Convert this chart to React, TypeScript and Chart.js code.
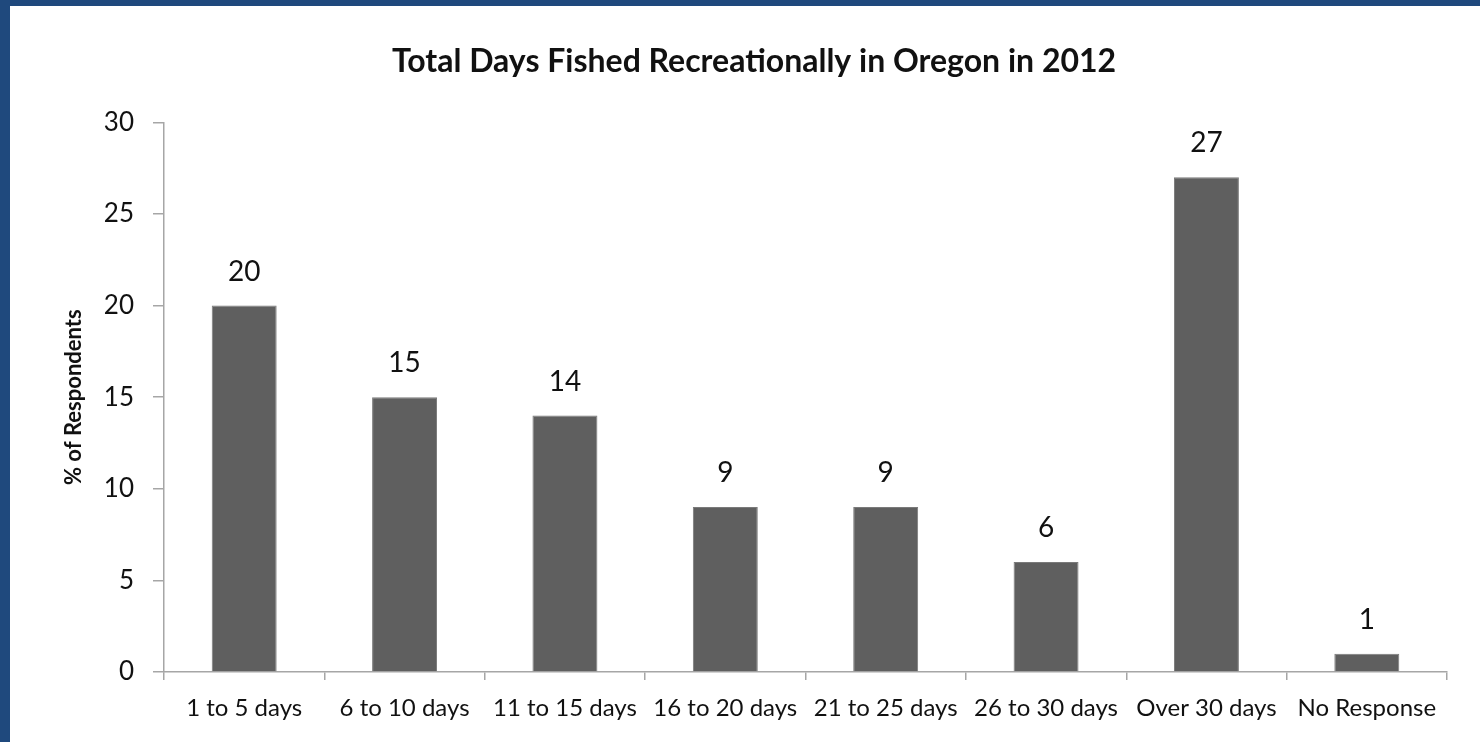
import React, { useEffect, useRef } from "react";
import { Chart, registerables } from "chart.js";

Chart.register(...registerables);

const categories = [
  "1 to 5 days",
  "6 to 10 days",
  "11 to 15 days",
  "16 to 20 days",
  "21 to 25 days",
  "26 to 30 days",
  "Over 30 days",
  "No Response",
];
const percentValues = [20, 15, 14, 9, 9, 6, 27, 1];
const yTickValues = [0, 5, 10, 15, 20, 25, 30];

const FONT = "Lato, 'Open Sans', sans-serif";

const labelPlugin = {
  id: "barValueLabels",
  afterDatasetsDraw(chart: any) {
    const ctx = chart.ctx;
    const meta = chart.getDatasetMeta(0);
    ctx.save();
    ctx.font = `28px ${FONT}`;
    ctx.fillStyle = "#111111";
    ctx.textAlign = "center";
    ctx.textBaseline = "middle";
    meta.data.forEach((bar: any, i: number) => {
      ctx.fillText(String(percentValues[i]), bar.x, bar.y - 34);
    });
    ctx.restore();
  },
};

export default function App() {
  const canvasRef = useRef<HTMLCanvasElement | null>(null);

  useEffect(() => {
    if (!canvasRef.current) return;
    const chart = new Chart(canvasRef.current, {
      type: "bar",
      data: {
        labels: categories,
        datasets: [
          {
            data: percentValues,
            backgroundColor: "#5f5f5f",
            borderColor: "#7a7a7a",
            borderWidth: 1,
            categoryPercentage: 1,
            barPercentage: 0.405,
          },
        ],
      },
      options: {
        animation: false,
        responsive: false,
        maintainAspectRatio: false,
        layout: { padding: { left: 51, right: 33, top: 0, bottom: 0 } },
        plugins: {
          legend: { display: false },
          tooltip: { enabled: false },
          title: {
            display: true,
            text: "Total Days Fished Recreationally in Oregon in 2012",
            color: "#111111",
            font: { family: FONT, size: 32, weight: "bold" },
            padding: { top: 36, bottom: 42 },
          },
        },
        scales: {
          x: {
            grid: {
              display: true,
              drawOnChartArea: false,
              drawTicks: true,
              tickLength: 8,
              color: "#a6a6a6",
              lineWidth: 1.5,
              offset: true,
            },
            border: { display: true, color: "#a6a6a6", width: 1.5 },
            ticks: {
              color: "#111111",
              font: { family: FONT, size: 24 },
              maxRotation: 0,
              minRotation: 0,
              autoSkip: false,
              padding: 14,
            },
            afterFit(scale: any) {
              scale.height = 70;
            },
          },
          y: {
            min: 0,
            max: 30,
            afterBuildTicks(scale: any) {
              scale.ticks = yTickValues.map((v) => ({ value: v }));
            },
            grid: {
              display: true,
              drawOnChartArea: false,
              drawTicks: true,
              tickLength: 11,
              color: "#a6a6a6",
              lineWidth: 1.5,
            },
            border: { display: true, color: "#a6a6a6", width: 1.5 },
            ticks: {
              color: "#111111",
              font: { family: FONT, size: 26 },
              padding: 19,
            },
            title: {
              display: true,
              text: "% of Respondents",
              color: "#111111",
              font: { family: FONT, size: 22, weight: "bold" },
              padding: { top: 0, bottom: 0 },
            },
            afterFit(scale: any) {
              scale.width = 103;
            },
          },
        },
      },
      plugins: [labelPlugin],
    });
    return () => chart.destroy();
  }, []);

  return (
    <div
      style={{
        position: "absolute",
        left: 0,
        top: 0,
        width: 1480,
        height: 742,
        background: "#1f497d",
      }}
    >
      <div
        style={{
          position: "absolute",
          left: 10,
          top: 6,
          width: 1470,
          height: 736,
          background: "#ffffff",
        }}
      >
        <canvas
          ref={canvasRef}
          width={1470}
          height={736}
          style={{ display: "block", width: 1470, height: 736 }}
        />
      </div>
    </div>
  );
}
